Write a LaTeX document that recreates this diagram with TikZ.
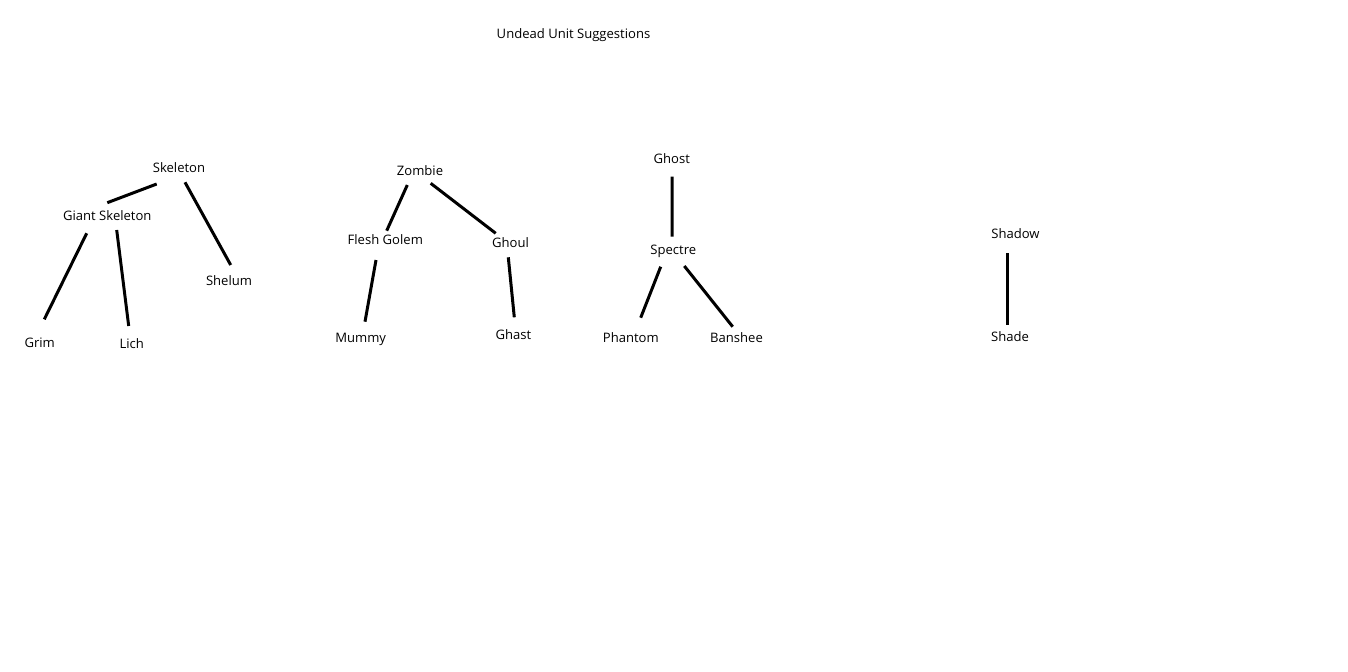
\documentclass[tikz,border=0pt]{standalone}
\usepackage{fontspec}
\setmainfont{Open Sans}
\usepackage{tikz}
\usetikzlibrary{positioning,calc}

\begin{document}
\begin{tikzpicture}[
  x=0.75pt,y=-0.75pt,
  font=\fontsize{9.8}{12}\selectfont,
  unit/.style={inner sep=0pt},
  link/.style={line width=2.25pt}
]
\useasboundingbox (0,0) rectangle (1348,671);
\node[unit] (title) at (573.5,35) {Undead Unit Suggestions};
\node[unit] (skel) at (179,167.3) {Skeleton};
\node[unit] (giant) at (107.3,215.7) {Giant Skeleton};
\node[unit] (shelum) at (229,281) {Shelum};
\node[unit] (grim) at (39.7,342.7) {Grim};
\node[unit] (lich) at (131.7,343.3) {Lich};
\node[unit] (zomb) at (420,170.7) {Zombie};
\node[unit] (golem) at (385.3,240) {Flesh Golem};
\node[unit] (ghoul) at (510.5,242.3) {Ghoul};
\node[unit] (mummy) at (360.7,339) {Mummy};
\node[unit] (ghast) at (513.5,335) {Ghast};
\node[unit] (ghost) at (671.8,159) {Ghost};
\node[unit] (spec) at (673.3,251) {Spectre};
\node[unit] (phant) at (630.8,337.7) {Phantom};
\node[unit] (bansh) at (736.5,338) {Banshee};
\node[unit] (shadow) at (1015.5,234) {Shadow};
\node[unit] (shade) at (1010,337) {Shade};
\draw[link] ([shift={(-22.3,16.7)}]skel.center) -- ([shift={(0,-13)}]giant.center);
\draw[link] ([shift={(6,15)}]skel.center) -- ([shift={(1.7,-16)}]shelum.center);
\draw[link] ([shift={(-20.6,17.6)}]giant.center) -- ([shift={(4.6,-23.4)}]grim.center);
\draw[link] ([shift={(9.4,14.3)}]giant.center) -- ([shift={(-3,-17.3)}]lich.center);
\draw[link] ([shift={(-12.7,14.3)}]zomb.center) -- ([shift={(1.4,-9.3)}]golem.center);
\draw[link] ([shift={(10.7,12.6)}]zomb.center) -- ([shift={(-14.8,-9)}]ghoul.center);
\draw[link] ([shift={(-9.3,20)}]golem.center) -- ([shift={(4.3,-17.3)}]mummy.center);
\draw[link] ([shift={(-2.2,15)}]ghoul.center) -- ([shift={(0.8,-17.7)}]ghast.center);
\draw[link] ([shift={(0.2,17.7)}]ghost.center) -- ([shift={(-1.3,-14.3)}]spec.center);
\draw[link] ([shift={(-12.6,15.7)}]spec.center) -- ([shift={(9.9,-20)}]phant.center);
\draw[link] ([shift={(11,15)}]spec.center) -- ([shift={(-3.8,-11.3)}]bansh.center);
\draw[link] ([shift={(-8.5,19)}]shadow.center) -- ([shift={(-3,-12)}]shade.center);
\end{tikzpicture}
\end{document}
